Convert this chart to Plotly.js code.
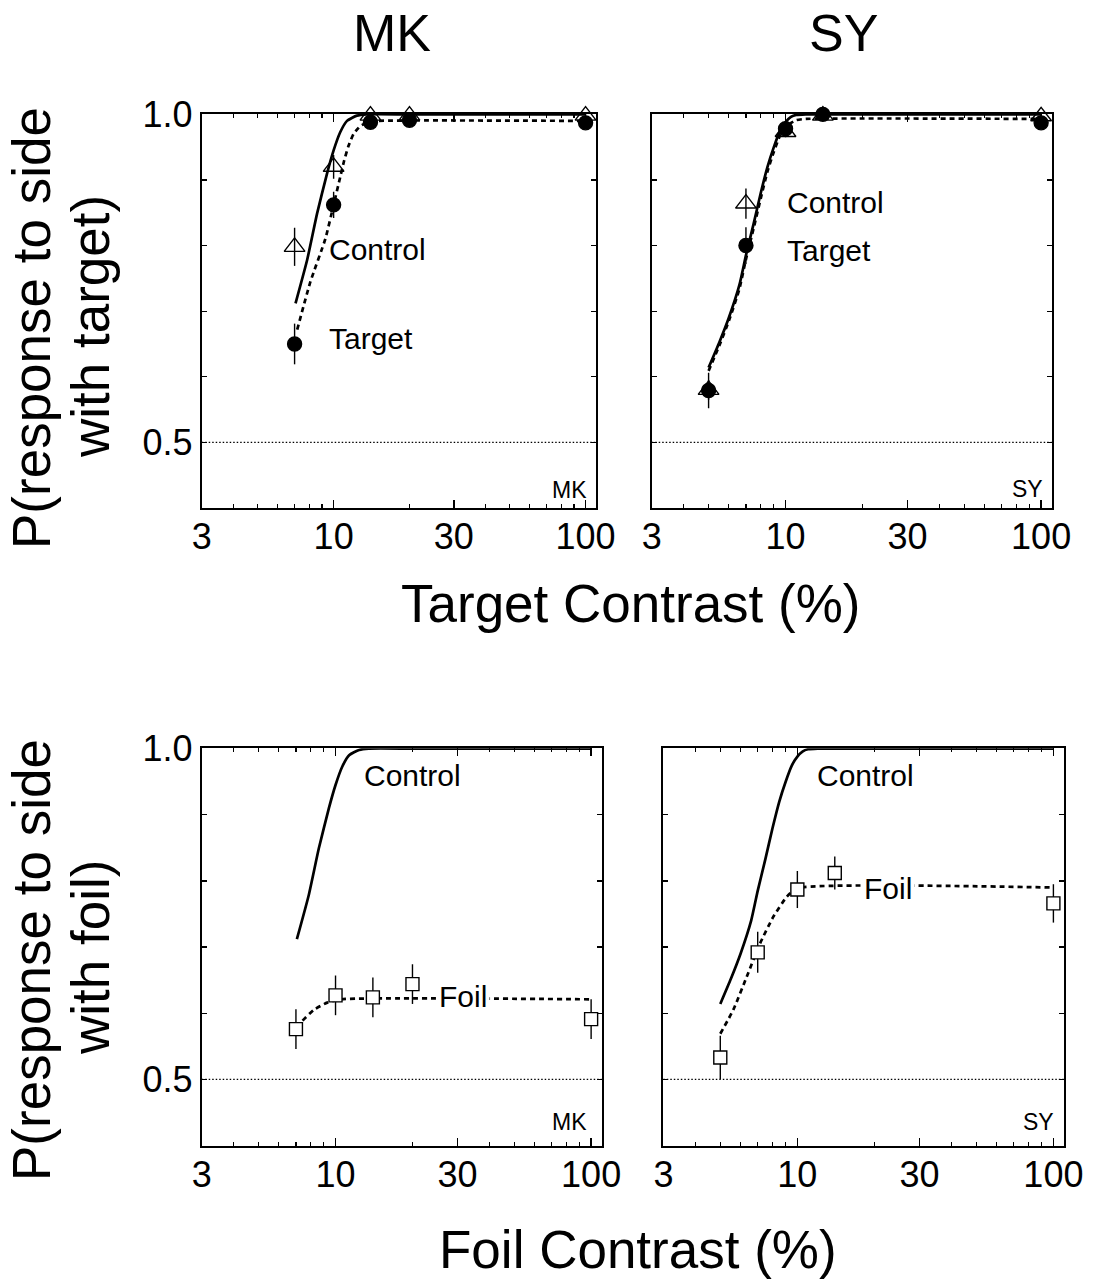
<!DOCTYPE html>
<html>
<head>
<meta charset="utf-8">
<script src="https://cdn.plot.ly/plotly-3.0.1.min.js"></script>
<style>html,body{margin:0;padding:0;background:#fff}</style>
</head>
<body>
<div id="chart" style="width:1093px;height:1284px"></div>
<script>
// ---------------- data ----------------
const contrastMK = [7, 10, 14, 20, 100];
const controlMK = [0.798, 0.920, 0.998, 0.998, 0.998];
const controlMKErr = [0.029, 0.018, 0.004, 0.004, 0.004];
const targetMK = [0.650, 0.862, 0.988, 0.991, 0.987];
const targetMKErr = [0.031, 0.020, 0.004, 0.004, 0.004];
const foilMK = [0.576, 0.627, 0.624, 0.644, 0.591];
const foilMKErr = [0.030, 0.030, 0.030, 0.030, 0.030];

const contrastSY = [5, 7, 10, 14, 100];
const controlSY = [0.580, 0.864, 0.973, 0.998, 0.997];
const controlSYErr = [0.015, 0.023, 0.008, 0.004, 0.004];
const targetSY = [0.579, 0.800, 0.978, 1.000, 0.987];
const targetSYErr = [0.027, 0.028, 0.008, 0.004, 0.004];
const foilSY = [0.533, 0.692, 0.787, 0.812, 0.766];
const foilSYErr = [0.033, 0.031, 0.028, 0.025, 0.029];

// fitted curves
const fitControlMKx = [7.06, 7.85, 8.6, 9.42, 10.0, 10.63, 11.3, 12.37, 13.5, 20, 50, 100];
const fitControlMKy = [0.712, 0.778, 0.849, 0.910, 0.945, 0.973, 0.990, 0.998, 1.0, 1.0, 1.0, 1.0];
const fitTargetMKx = [7.17, 8.09, 9.27, 10.0, 10.63, 11.02, 11.46, 12.0, 12.75, 13.7, 14.9, 100];
const fitTargetMKy = [0.672, 0.745, 0.810, 0.862, 0.905, 0.930, 0.952, 0.970, 0.982, 0.988, 0.990, 0.990];
const fitControlSYx = [5.0, 5.5, 6.0, 6.6, 7.0, 7.5, 8.0, 8.5, 9.0, 9.5, 10.0, 10.5, 11.0, 12.0, 100];
const fitControlSYy = [0.614, 0.652, 0.690, 0.740, 0.785, 0.833, 0.880, 0.920, 0.950, 0.974, 0.988, 0.996, 0.999, 1.0, 1.0];
const fitTargetSYx = [5.0, 5.5, 6.0, 6.6, 7.0, 7.5, 8.0, 8.5, 9.0, 9.5, 10.0, 11.0, 12.0, 100];
const fitTargetSYy = [0.609, 0.647, 0.685, 0.734, 0.779, 0.826, 0.872, 0.913, 0.943, 0.967, 0.981, 0.991, 0.993, 0.993];
const fitFoilMKx = [7.0, 7.3, 8.22, 9.28, 10.46, 100];
const fitFoilMKy = [0.580, 0.586, 0.605, 0.616, 0.621, 0.621];
const fitFoilSYx = [5.0, 5.62, 6.34, 7.14, 8.06, 9.09, 9.95, 100];
const fitFoilSYy = [0.569, 0.605, 0.655, 0.705, 0.746, 0.776, 0.789, 0.790];

const chanceLevel = 0.5;
const xTickVals = [3, 10, 30, 100];
const xTickText = ['3', '10', '30', '100'];
const xMinorVals = [4, 5, 6, 7, 8, 9, 20, 40, 50, 60, 70, 80, 90];
const yTickVals = [0.5, 0.6, 0.7, 0.8, 0.9, 1.0];
const yTickText = ['0.5', '', '', '', '', '1.0'];

// ---------------- drawing ----------------
const FONT = 'Liberation Sans, Arial, Helvetica, sans-serif';
const W = 1093, H = 1284;
const px = v => v / W;
const py = v => 1 - v / H;

function curve(x, y, xa, ya, dash) {
  return {type: 'scatter', mode: 'lines', x: x, y: y, xaxis: xa, yaxis: ya,
    line: {color: 'black', width: 2.7, dash: dash, shape: 'spline', smoothing: 0.5},
    hoverinfo: 'skip'};
}
function points(x, y, err, xa, ya, symbol, size, fill) {
  return {type: 'scatter', mode: 'markers', x: x, y: y, xaxis: xa, yaxis: ya,
    cliponaxis: false,
    error_y: {type: 'data', array: err, visible: true, thickness: 1.4, width: 0, color: 'black'},
    marker: {symbol: symbol, size: size, color: fill, line: {color: 'black', width: 1.4}}};
}
const DASH = '5px,4px';
const traces = [
  curve(fitControlMKx, fitControlMKy, 'x', 'y', 'solid'),
  curve(fitTargetMKx, fitTargetMKy, 'x', 'y', DASH),
  points(contrastMK, controlMK, controlMKErr, 'x', 'y', 'triangle-up-open', 18, 'black'),
  points(contrastMK, targetMK, targetMKErr, 'x', 'y', 'circle', 14, 'black'),

  curve(fitControlSYx, fitControlSYy, 'x2', 'y2', 'solid'),
  curve(fitTargetSYx, fitTargetSYy, 'x2', 'y2', DASH),
  points(contrastSY, controlSY, controlSYErr, 'x2', 'y2', 'triangle-up-open', 18, 'black'),
  points(contrastSY, targetSY, targetSYErr, 'x2', 'y2', 'circle', 14, 'black'),

  curve(fitControlMKx, fitControlMKy, 'x3', 'y3', 'solid'),
  curve(fitFoilMKx, fitFoilMKy, 'x3', 'y3', DASH),
  points(contrastMK, foilMK, foilMKErr, 'x3', 'y3', 'square', 13, 'white'),

  curve(fitControlSYx, fitControlSYy, 'x4', 'y4', 'solid'),
  curve(fitFoilSYx, fitFoilSYy, 'x4', 'y4', DASH),
  points(contrastSY, foilSY, foilSYErr, 'x4', 'y4', 'square', 13, 'white')
];

function xAxis(d0, d1, anchor) {
  return {type: 'log', domain: [px(d0), px(d1)], anchor: anchor,
    range: [Math.log10(2.995), Math.log10(110)],
    tickmode: 'array', tickvals: xTickVals, ticktext: xTickText,
    ticks: 'inside', ticklen: 8, tickwidth: 1.5, tickcolor: 'black',
    minor: {tickmode: 'array', tickvals: xMinorVals, ticks: 'inside', ticklen: 4, tickwidth: 1.3, tickcolor: 'black', showgrid: false},
    showline: true, linewidth: 2, linecolor: 'black', mirror: 'ticks',
    showgrid: false, zeroline: false, ticklabelstandoff: -4,
    tickfont: {family: FONT, size: 36, color: 'black'}};
}
function yAxis(top, bottom, anchor, labels) {
  return {domain: [py(bottom), py(top)], anchor: anchor, range: [0.4, 1.0005],
    tickmode: 'array', tickvals: yTickVals, ticktext: yTickText,
    ticks: 'inside', ticklen: 5, tickwidth: 1.3, tickcolor: 'black',
    showline: true, linewidth: 2, linecolor: 'black', mirror: 'ticks',
    showgrid: false, zeroline: false, showticklabels: labels, ticklabelstandoff: 0,
    tickfont: {family: FONT, size: 36, color: 'black'}};
}

function ann(x, y, text, size, opts) {
  return Object.assign({xref: 'paper', yref: 'paper', x: px(x), y: py(y), text: text,
    showarrow: false, xanchor: 'center', yanchor: 'middle',
    font: {family: FONT, size: size, color: 'black'}}, opts || {});
}
const annotations = [
  ann(392, 33, 'MK', 52), ann(843, 33, 'SY', 52),
  ann(630, 604, 'Target Contrast (%)', 53),
  ann(638, 1249, 'Foil Contrast (%)', 53),
  ann(31, 328, 'P(response to side', 53, {textangle: -90}),
  ann(90, 327, 'with target)', 53, {textangle: -90}),
  ann(31, 960, 'P(response to side', 53, {textangle: -90}),
  ann(90, 958, 'with foil)', 53, {textangle: -90}),
  ann(327, 250, 'Control', 30, {xanchor: 'left'}),
  ann(327, 339, 'Target', 30, {xanchor: 'left'}),
  ann(785, 203, 'Control', 30, {xanchor: 'left'}),
  ann(785, 251, 'Target', 30, {xanchor: 'left'}),
  ann(362, 775, 'Control', 30, {xanchor: 'left'}),
  ann(463, 997, 'Foil', 30, {bgcolor: 'white', borderpad: 2}),
  ann(815, 775, 'Control', 30, {xanchor: 'left'}),
  ann(888, 888, 'Foil', 30, {bgcolor: 'white', borderpad: 2}),
  ann(589, 490, 'MK', 23, {xanchor: 'right'}),
  ann(1045, 489, 'SY', 23, {xanchor: 'right'}),
  ann(589, 1122, 'MK', 23, {xanchor: 'right'}),
  ann(1056, 1122, 'SY', 23, {xanchor: 'right'})
];

function chanceLine(xa, ya) {
  return {type: 'line', xref: xa + ' domain', yref: ya, x0: 0, x1: 1, y0: chanceLevel, y1: chanceLevel,
    line: {color: 'black', width: 1.3, dash: '1.5px,2px'}, layer: 'below'};
}

const layout = {
  width: W, height: H, margin: {l: 0, r: 0, t: 0, b: 0},
  paper_bgcolor: 'white', plot_bgcolor: 'white', showlegend: false,
  font: {family: FONT, color: 'black'},
  xaxis: xAxis(201.7, 596, 'y'),
  yaxis: yAxis(114, 508, 'x', true),
  xaxis2: xAxis(651.7, 1051.7, 'y2'),
  yaxis2: yAxis(114, 508, 'x2', false),
  xaxis3: xAxis(201.7, 601.7, 'y3'),
  yaxis3: yAxis(748.3, 1145.5, 'x3', true),
  xaxis4: xAxis(663.3, 1064, 'y4'),
  yaxis4: yAxis(748.3, 1145.5, 'x4', false),
  shapes: [chanceLine('x', 'y'), chanceLine('x2', 'y2'), chanceLine('x3', 'y3'), chanceLine('x4', 'y4')],
  annotations: annotations
};

Plotly.newPlot('chart', traces, layout, {staticPlot: true, displayModeBar: false});
</script>
</body>
</html>
